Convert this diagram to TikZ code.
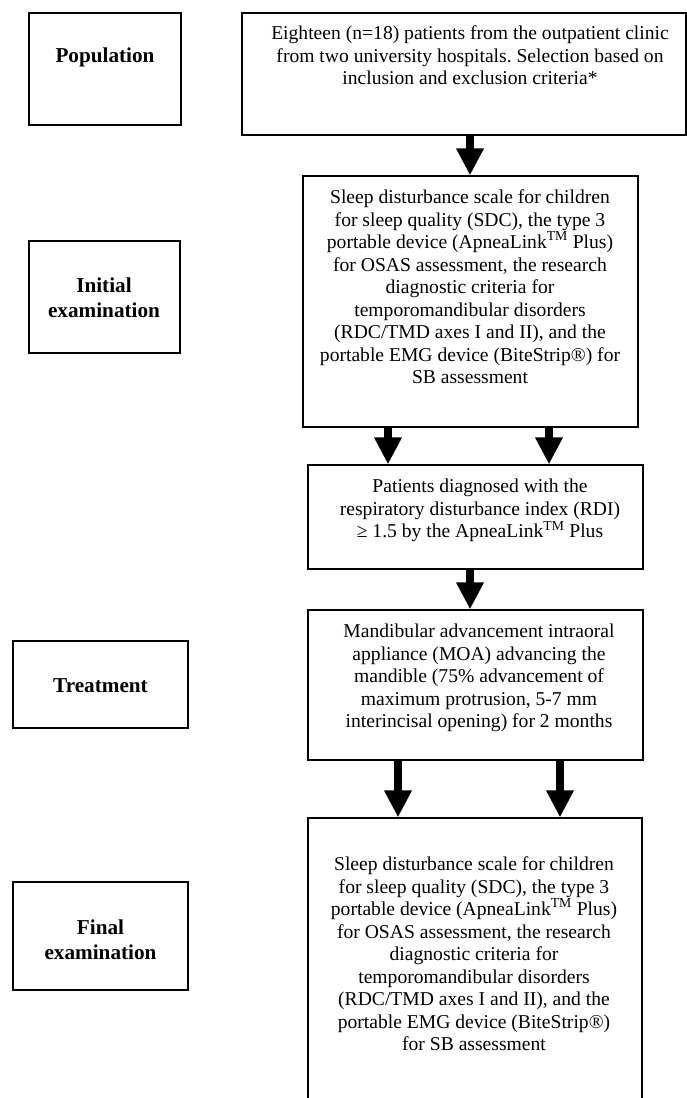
\documentclass[tikz,border=0pt]{standalone}
\usepackage{fontspec}
\setmainfont{Liberation Serif}
\usetikzlibrary{arrows.meta}
\tikzset{
  box/.style={draw=black, line width=1.3pt, inner sep=0pt, rectangle},
  body/.style={align=center, inner sep=0pt, anchor=north, font=\fontsize{19.6}{22.5}\selectfont\frenchspacing},
  lbl/.style={align=center, inner sep=0pt, font=\fontsize{21.2}{25}\selectfont\bfseries},
  flow/.style={line width=7.5pt, -{Triangle[length=27pt,width=26pt]}},
}
\begin{document}
\begin{tikzpicture}[x=1pt,y=-1pt]
\useasboundingbox (0,0) rectangle (687,1098);
\clip (0,0) rectangle (687,1098);
% boxes
\node[box, minimum width=152pt, minimum height=112pt] (pop) at (105,69) {};
\node[box, minimum width=444pt, minimum height=122pt] (top) at (464,74) {};
\node[box, minimum width=151pt, minimum height=112pt] (init) at (104.5,297) {};
\node[box, minimum width=335pt, minimum height=251pt] (b2) at (470.5,301.5) {};
\node[box, minimum width=335pt, minimum height=104pt] (b3) at (475.5,517) {};
\node[box, minimum width=175pt, minimum height=87pt] (treat) at (100.5,684.5) {};
\node[box, minimum width=335pt, minimum height=150pt] (b4) at (475.5,685) {};
\node[box, minimum width=175pt, minimum height=108pt] (final) at (100.5,936) {};
\node[box, minimum width=334pt, minimum height=302pt] (b5) at (475,969) {};
% labels
\node[lbl] (popt) at (105,57) {Population};
\node[lbl] (initt) at (104,298) {Initial\\examination};
\node[lbl] (treatt) at (100.5,686) {Treatment};
\node[lbl] (finalt) at (100.5,939.5) {Final\\examination};
% texts
\node[body] (t1) at (470,25.5) {Eighteen (n=18) patients from the outpatient clinic\\from two university hospitals. Selection based on\\inclusion and exclusion criteria*};
\node[body] (t2) at (470,189.5) {Sleep disturbance scale for children\\for sleep quality (SDC), the type 3\\portable device (ApneaLink\textsuperscript{TM} Plus)\\for OSAS assessment, the research\\diagnostic criteria for\\temporomandibular disorders\\(RDC/TMD axes I and II), and the\\portable EMG device (BiteStrip®) for\\SB assessment};
\node[body] (t3) at (480,479) {Patients diagnosed with the\\respiratory disturbance index (RDI)\\≥ 1.5 by the ApneaLink\textsuperscript{TM} Plus};
\node[body] (t4) at (479,624) {Mandibular advancement intraoral\\appliance (MOA) advancing the\\mandible (75\% advancement of\\maximum protrusion, 5-7 mm\\interincisal opening) for 2 months};
\node[body] (t5) at (474,856.5) {Sleep disturbance scale for children\\for sleep quality (SDC), the type 3\\portable device (ApneaLink\textsuperscript{TM} Plus)\\for OSAS assessment, the research\\diagnostic criteria for\\temporomandibular disorders\\(RDC/TMD axes I and II), and the\\portable EMG device (BiteStrip®)\\for SB assessment};
% arrow columns
\coordinate (xa) at (470,0);
\coordinate (xb) at (388,0);
\coordinate (xc) at (549,0);
\coordinate (xd) at (398,0);
\coordinate (xe) at (560,0);
\draw[flow] (top.south -| xa) -- (b2.north -| xa);
\draw[flow] (b2.south -| xb) -- (b3.north -| xb);
\draw[flow] (b2.south -| xc) -- (b3.north -| xc);
\draw[flow] (b3.south -| xa) -- (b4.north -| xa);
\draw[flow] (b4.south -| xd) -- (b5.north -| xd);
\draw[flow] (b4.south -| xe) -- (b5.north -| xe);
\end{tikzpicture}
\end{document}
